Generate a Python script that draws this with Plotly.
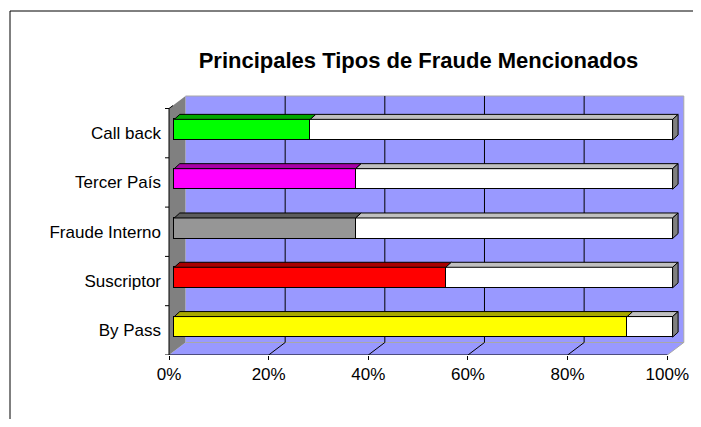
import plotly.graph_objects as go

# ---------------- data ----------------
title_text = "Principales Tipos de Fraude Mencionados"
categories = ["By Pass", "Suscriptor", "Fraude Interno", "Tercer País", "Call back"]  # bottom -> top
mencionado = [90.9, 54.5, 36.4, 36.4, 27.3]
no_mencionado = [9.1, 45.5, 63.6, 63.6, 72.7]
bar_colors = ["#FFFF00", "#FF0000", "#969696", "#FF00FF", "#00FF00"]
top_colors = ["#A8A800", "#A80000", "#5C5C5C", "#A800A8", "#00A800"]
rest_color = "#FFFFFF"
rest_top = "#C0C0C0"
side_color = "#808080"
x_ticks = [0, 20, 40, 60, 80, 100]
x_ticktext = ["0%", "20%", "40%", "60%", "80%", "100%"]

# ---------------- geometry ----------------
# the page adds an 8px body margin, so the figure is shifted/shrunk accordingly
OFF = 8
W, H = 701 - 2 * OFF, 427 - 2 * OFF
ML, MT = 160 - OFF, 90 - OFF
MR = W - (691 - OFF)
MB = H - MT - 265
plot_w = W - ML - MR
plot_h = H - MT - MB
px_x = 4.983          # pixels per percent
px_y = 49.3           # pixels per category
front0 = 9            # 0% of the front axis, pixels right of the plot-area edge
xr = [-front0 / px_x, -front0 / px_x + plot_w / px_x]
yr = [-0.5, -0.5 + plot_h / px_y]
bar_dx = 5.3 / px_x   # bars sit a little behind the front plane
bar_dy = 3.5 / px_y
wall_dx = 16.5 / px_x  # depth of the back wall
wall_dy = 12.5 / px_y
depth_dx = 5.5 / px_x  # depth of each bar
depth_dy = 5.0 / px_y
bar_w = 0.417
n = len(categories)
ypos = list(range(n))

font = "Liberation Sans, Arial, sans-serif"

fig = go.Figure()

# invisible trace on the main axes
fig.add_trace(go.Scatter(x=[None], y=[None], showlegend=False, hoverinfo="skip"))

# bars (front faces)
fig.add_trace(go.Bar(
    x=mencionado, y=ypos, orientation="h", width=bar_w,
    marker=dict(color=bar_colors, line=dict(color="#000000", width=1)),
    xaxis="x2", yaxis="y2", showlegend=False, hoverinfo="skip"))
fig.add_trace(go.Bar(
    x=no_mencionado, y=ypos, orientation="h", width=bar_w,
    marker=dict(color=rest_color, line=dict(color="#000000", width=1)),
    xaxis="x2", yaxis="y2", showlegend=False, hoverinfo="skip"))

# top faces of the first segment
for i in range(n):
    yt = ypos[i] + bar_w / 2
    x0, x1 = 0, mencionado[i]
    fig.add_trace(go.Scatter(
        x=[x0, x1, x1 + depth_dx, x0 + depth_dx, x0],
        y=[yt, yt, yt + depth_dy, yt + depth_dy, yt],
        fill="toself", fillcolor=top_colors[i], mode="lines",
        line=dict(color="#000000", width=1),
        xaxis="x2", yaxis="y2", showlegend=False, hoverinfo="skip"))

# top faces of the remainder + right side faces
tx, ty, sx, sy = [], [], [], []
for i in range(n):
    yt = ypos[i] + bar_w / 2
    yb = ypos[i] - bar_w / 2
    x0 = mencionado[i]
    x1 = mencionado[i] + no_mencionado[i]
    tx += [x0, x1, x1 + depth_dx, x0 + depth_dx, x0, None]
    ty += [yt, yt, yt + depth_dy, yt + depth_dy, yt, None]
    sx += [x1, x1, x1 + depth_dx, x1 + depth_dx, x1, None]
    sy += [yb, yt, yt + depth_dy, yb + depth_dy, yb, None]
fig.add_trace(go.Scatter(x=tx, y=ty, fill="toself", fillcolor=rest_top, mode="lines",
                         line=dict(color="#000000", width=1), xaxis="x2", yaxis="y2",
                         showlegend=False, hoverinfo="skip"))
fig.add_trace(go.Scatter(x=sx, y=sy, fill="toself", fillcolor=side_color, mode="lines",
                         line=dict(color="#000000", width=1), xaxis="x2", yaxis="y2",
                         showlegend=False, hoverinfo="skip"))

# ---------------- walls / floor / grid (decoration) ----------------
shapes = []
ylo, yhi = -0.5, n - 0.5
xlo, xhi = x_ticks[0], x_ticks[-1]
def line(xa, ya, xb, yb, color="#000000", width=1):
    shapes.append(dict(type="line", xref="x", yref="y", x0=xa, y0=ya, x1=xb, y1=yb,
                       line=dict(color=color, width=width), layer="below"))
def poly(pts, fill):
    path = "M " + " L ".join(f"{a},{b}" for a, b in pts) + " Z"
    shapes.append(dict(type="path", xref="x", yref="y", path=path, fillcolor=fill,
                       line=dict(width=0), layer="below"))

# back wall
poly([(xlo + wall_dx, ylo + wall_dy), (xhi + wall_dx, ylo + wall_dy),
      (xhi + wall_dx, yhi + wall_dy), (xlo + wall_dx, yhi + wall_dy)], "#9999FF")
# floor
poly([(xlo, ylo), (xhi, ylo), (xhi + wall_dx, ylo + wall_dy), (xlo + wall_dx, ylo + wall_dy)], "#9999FF")
# left wall
poly([(xlo, ylo), (xlo + wall_dx, ylo + wall_dy), (xlo + wall_dx, yhi + wall_dy), (xlo, yhi)], "#808080")
# back wall border
edge = "#A8A8A8"
line(xlo + wall_dx, yhi + wall_dy, xhi + wall_dx, yhi + wall_dy, edge)
line(xhi + wall_dx, yhi + wall_dy, xhi + wall_dx, ylo + wall_dy, edge)
line(xlo + wall_dx, ylo + wall_dy, xhi + wall_dx, ylo + wall_dy, edge)
line(xhi, ylo, xhi + wall_dx, ylo + wall_dy, edge)
# gridlines
for t in x_ticks[1:-1]:
    line(t + wall_dx, ylo + wall_dy, t + wall_dx, yhi + wall_dy)
    line(t, ylo, t + wall_dx, ylo + wall_dy)
# axis lines
line(xlo, ylo, xhi, ylo)
line(xlo, ylo, xlo, yhi)
line(xlo, yhi, xlo + 4 / px_x, yhi + 3 / px_y)
for k in range(n + 1):
    line(xlo - 4 / px_x, ylo + k, xlo, ylo + k)

# outer frame (paper coordinates, limited to the figure)
fx = (10 - OFF - ML) / plot_w
fy = (H - MB - (11 - OFF)) / plot_h
x_right = (W - ML) / plot_w
y_bottom = -MB / plot_h
shapes.append(dict(type="line", xref="paper", yref="paper", x0=fx, y0=fy, x1=x_right, y1=fy,
                   line=dict(color="#000000", width=1)))
shapes.append(dict(type="line", xref="paper", yref="paper", x0=fx, y0=fy, x1=fx, y1=y_bottom,
                   line=dict(color="#000000", width=1)))

fig.update_layout(
    width=W, height=H,
    margin=dict(l=ML, r=MR, t=MT, b=MB, pad=0),
    paper_bgcolor="#FFFFFF", plot_bgcolor="#FFFFFF",
    barmode="stack", bargap=0,
    showlegend=False,
    font=dict(family=font, size=17, color="#000000"),
    title=dict(text=title_text, x=(418.5 - OFF) / W, xanchor="center", xref="container",
               y=1 - (60 - OFF) / H, yanchor="middle", yref="container",
               font=dict(family=font, size=22, color="#000000", weight="bold")),
    xaxis=dict(range=xr, tickvals=x_ticks, ticktext=x_ticktext, ticks="outside", ticklen=4,
               tickcolor="#000000", showline=False, showgrid=False, zeroline=False,
               tickfont=dict(size=17), fixedrange=True),
    yaxis=dict(range=yr, tickvals=ypos, ticktext=categories, ticks="", showline=False,
               showgrid=False, zeroline=False, anchor="free", position=front0 / plot_w,
               ticklabelstandoff=8, tickfont=dict(size=17), fixedrange=True),
    xaxis2=dict(range=[xr[0] - bar_dx, xr[1] - bar_dx], overlaying="x", anchor="y2",
                visible=False, fixedrange=True),
    yaxis2=dict(range=[yr[0] - bar_dy, yr[1] - bar_dy], overlaying="y", anchor="x2",
                visible=False, fixedrange=True),
    shapes=shapes,
)

fig.write_html("out.html")
